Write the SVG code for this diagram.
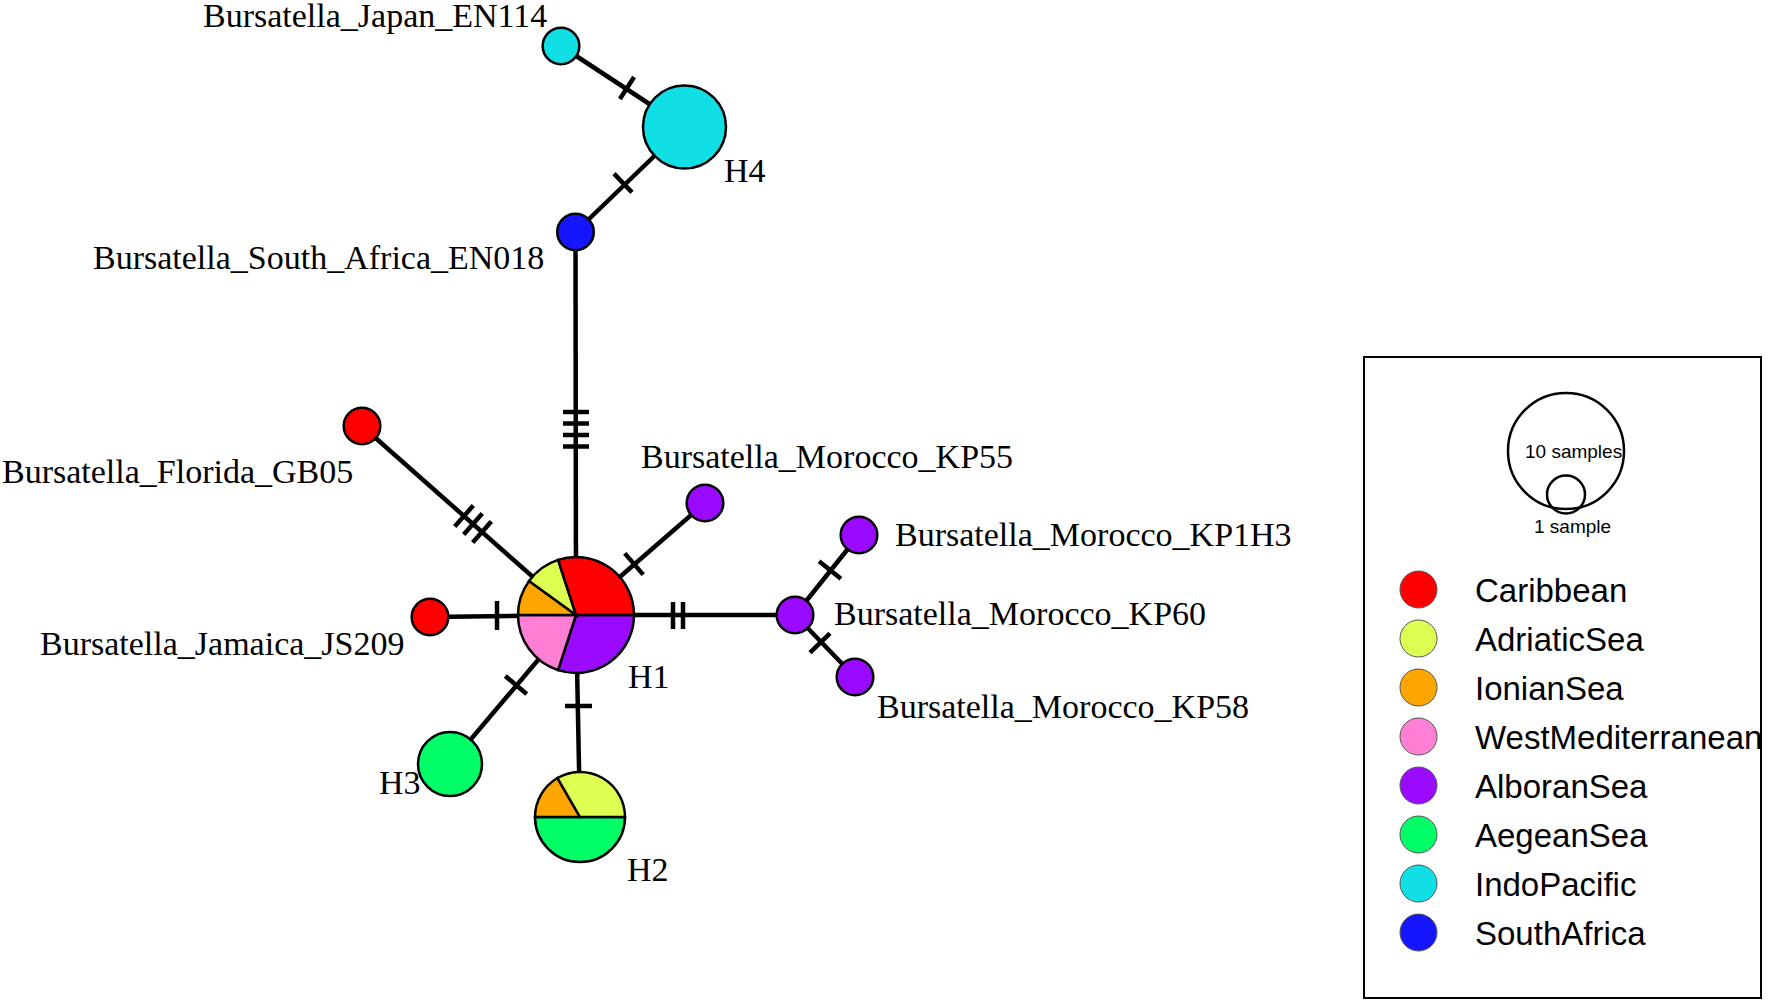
<svg xmlns="http://www.w3.org/2000/svg" width="1772" height="1003" viewBox="0 0 1772 1003">
<style>
.e{stroke:#000;stroke-width:4.5;fill:none;stroke-linecap:butt}
.n{stroke:#000;stroke-width:2.5}
.lbl{font-family:"Liberation Serif","Times New Roman",serif;font-size:34px;fill:#000}
.leg{font-family:"Liberation Sans",Arial,sans-serif;fill:#000}
.lc{stroke:#555;stroke-width:1}
.car{fill:#FF0000}.adr{fill:#DCFF52}.ion{fill:#FFA500}.wme{fill:#FF7FD4}.alb{fill:#9A0AFF}.aeg{fill:#00FF66}.ind{fill:#11DFE6}.saf{fill:#1515FF}
</style>
<rect width="1772" height="1003" fill="#fff"/>
<g id="connectors">
<line class="e" x1="561" y1="46" x2="684.5" y2="127"/>
<line class="e" x1="634.1" y1="77.1" x2="619.9" y2="98.9"/>
<line class="e" x1="684.5" y1="127" x2="575.5" y2="232"/>
<line class="e" x1="632" y1="192.4" x2="614" y2="173.6"/>
<line class="e" x1="575.5" y1="232" x2="576" y2="615"/>
<line class="e" x1="563" y1="412" x2="589" y2="412"/>
<line class="e" x1="563" y1="423.5" x2="589" y2="423.5"/>
<line class="e" x1="563" y1="435" x2="589" y2="435"/>
<line class="e" x1="563" y1="446.5" x2="589" y2="446.5"/>
<line class="e" x1="362" y1="426" x2="576" y2="615"/>
<line class="e" x1="473.3" y1="505.5" x2="454.7" y2="526.5"/>
<line class="e" x1="482.3" y1="513.5" x2="463.7" y2="534.5"/>
<line class="e" x1="491.3" y1="521.5" x2="472.7" y2="542.5"/>
<line class="e" x1="430" y1="617" x2="576" y2="615"/>
<line class="e" x1="497" y1="601" x2="497" y2="630"/>
<line class="e" x1="576" y1="615" x2="705" y2="503"/>
<line class="e" x1="643.2" y1="574.6" x2="624.8" y2="553.4"/>
<line class="e" x1="576" y1="615" x2="795" y2="615"/>
<line class="e" x1="673" y1="602" x2="673" y2="629"/>
<line class="e" x1="683" y1="602" x2="683" y2="629"/>
<line class="e" x1="795" y1="615" x2="859" y2="535"/>
<line class="e" x1="840.9" y1="578.8" x2="819.1" y2="561.2"/>
<line class="e" x1="795" y1="615" x2="855" y2="677"/>
<line class="e" x1="810" y1="652.7" x2="830" y2="633.3"/>
<line class="e" x1="576" y1="615" x2="580" y2="817"/>
<line class="e" x1="565" y1="706" x2="592" y2="706"/>
<line class="e" x1="576" y1="615" x2="450" y2="764"/>
<line class="e" x1="526.7" y1="694" x2="505.3" y2="676"/>
</g>
<g id="node-H1">
<path class="n alb" d="M576,615 L634,615 A58,58 0 0 1 558.08,670.16 Z"/>
<path class="n wme" d="M576,615 L558.08,670.16 A58,58 0 0 1 518,615 Z"/>
<path class="n ion" d="M576,615 L518,615 A58,58 0 0 1 529.08,580.91 Z"/>
<path class="n adr" d="M576,615 L529.08,580.91 A58,58 0 0 1 558.08,559.84 Z"/>
<path class="n car" d="M576,615 L558.08,559.84 A58,58 0 0 1 634,615 Z"/>
<text class="lbl" x="628" y="688">H1</text>
</g>
<g id="node-H2">
<path class="n aeg" d="M580,817 L625,817 A45,45 0 0 1 535,817 Z"/>
<path class="n ion" d="M580,817 L535,817 A45,45 0 0 1 557.5,778.03 Z"/>
<path class="n adr" d="M580,817 L557.5,778.03 A45,45 0 0 1 625,817 Z"/>
<text class="lbl" x="627" y="881">H2</text>
</g>
<g id="node-H3">
<circle class="n aeg" cx="450" cy="764" r="32"/>
<text class="lbl" x="379" y="794">H3</text>
</g>
<g id="node-H4">
<circle class="n ind" cx="684.5" cy="127" r="41.5"/>
<text class="lbl" x="724" y="182">H4</text>
</g>
<g id="node-Japan">
<circle class="n ind" cx="561" cy="46" r="18.3"/>
<text class="lbl" x="203" y="27">Bursatella_Japan_EN114</text>
</g>
<g id="node-SouthAfrica">
<circle class="n saf" cx="575.5" cy="232" r="18.3"/>
<text class="lbl" x="93" y="269">Bursatella_South_Africa_EN018</text>
</g>
<g id="node-Florida">
<circle class="n car" cx="362" cy="426" r="18.3"/>
<text class="lbl" x="2" y="483">Bursatella_Florida_GB05</text>
</g>
<g id="node-Jamaica">
<circle class="n car" cx="430" cy="617" r="18.3"/>
<text class="lbl" x="40" y="655">Bursatella_Jamaica_JS209</text>
</g>
<g id="node-KP55">
<circle class="n alb" cx="705" cy="503" r="18.3"/>
<text class="lbl" x="641" y="468">Bursatella_Morocco_KP55</text>
</g>
<g id="node-KP60">
<circle class="n alb" cx="795" cy="615" r="18.3"/>
<text class="lbl" x="834" y="625">Bursatella_Morocco_KP60</text>
</g>
<g id="node-KP1H3">
<circle class="n alb" cx="859" cy="535" r="18.3"/>
<text class="lbl" x="895" y="546">Bursatella_Morocco_KP1H3</text>
</g>
<g id="node-KP58">
<circle class="n alb" cx="855" cy="677" r="18.3"/>
<text class="lbl" x="877" y="718">Bursatella_Morocco_KP58</text>
</g>
<g id="legend">
<rect x="1364" y="357" width="397" height="641" fill="none" stroke="#000" stroke-width="2"/>
<circle cx="1566" cy="451" r="58" fill="none" stroke="#000" stroke-width="2.5"/>
<circle cx="1566" cy="494.5" r="19" fill="none" stroke="#000" stroke-width="2.5"/>
<text class="leg" x="1525" y="458" font-size="19">10 samples</text>
<text class="leg" x="1534" y="533" font-size="19">1 sample</text>
<g font-size="33">
<circle class="lc car" cx="1418.5" cy="589.5" r="18.5"/><text class="leg" x="1475" y="602">Caribbean</text>
<circle class="lc adr" cx="1418.5" cy="638.5" r="18.5"/><text class="leg" x="1475" y="651">AdriaticSea</text>
<circle class="lc ion" cx="1418.5" cy="687.5" r="18.5"/><text class="leg" x="1475" y="700">IonianSea</text>
<circle class="lc wme" cx="1418.5" cy="736.5" r="18.5"/><text class="leg" x="1475" y="749">WestMediterranean</text>
<circle class="lc alb" cx="1418.5" cy="785.5" r="18.5"/><text class="leg" x="1475" y="798">AlboranSea</text>
<circle class="lc aeg" cx="1418.5" cy="834.5" r="18.5"/><text class="leg" x="1475" y="847">AegeanSea</text>
<circle class="lc ind" cx="1418.5" cy="883.5" r="18.5"/><text class="leg" x="1475" y="896">IndoPacific</text>
<circle class="lc saf" cx="1418.5" cy="932.5" r="18.5"/><text class="leg" x="1475" y="945">SouthAfrica</text>
</g>
</g>
</svg>
